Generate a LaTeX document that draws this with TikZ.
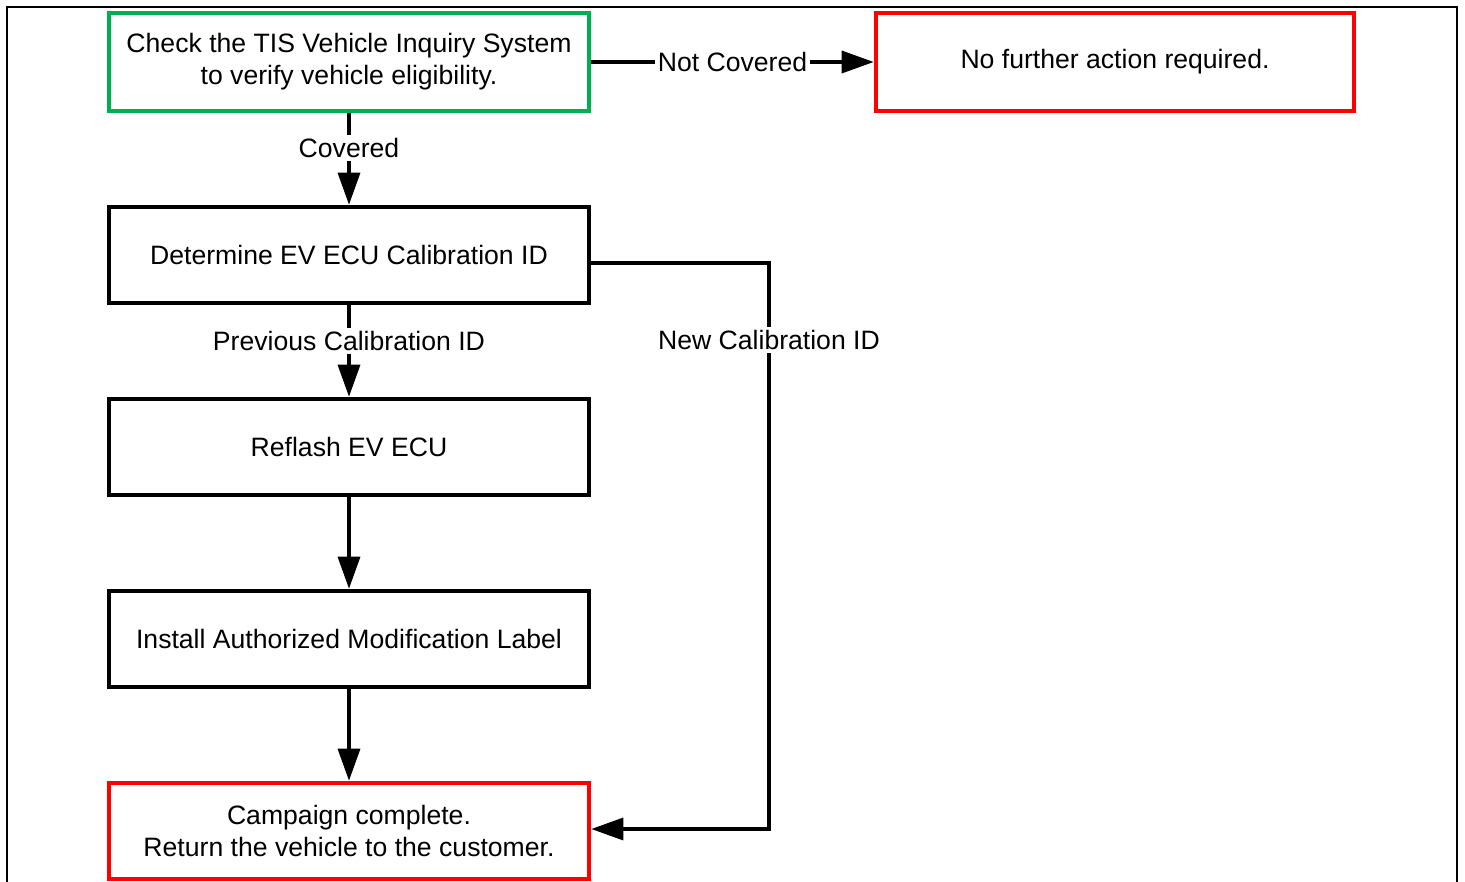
\documentclass[tikz,border=0pt]{standalone}
\usepackage{fontspec}
\setmainfont{Liberation Sans}
\usetikzlibrary{arrows.meta}
\definecolor{boxgreen}{RGB}{0,176,80}
\definecolor{boxred}{RGB}{255,0,0}
\begin{document}
\begin{tikzpicture}[x=0.5pt,y=-0.5pt,
  font=\fontsize{13.3}{16}\selectfont,
  stepbox/.style={draw=black, line width=2.3pt, minimum width=240pt, minimum height=48pt, align=center, inner sep=2pt},
  greenbox/.style={stepbox, draw=boxgreen, minimum height=49pt},
  redbox/.style={stepbox, draw=boxred},
  conn/.style={line width=1.7pt, -{Triangle[length=16pt,width=11pt]}},
  lbl/.style={fill=white, inner sep=1.5pt}]
\useasboundingbox (0,0) rectangle (1465,882);
\draw[line width=1.1pt] (7,882) -- (7,7) -- (1457,7) -- (1457,882);

\node[greenbox] (check) at (349,62) {Check the TIS Vehicle Inquiry System\\to verify vehicle eligibility.};
\node[redbox, minimum width=239pt, minimum height=49pt] (nofurther) at (1115,62) {No further action required.};
\node[stepbox] (det) at (349,255) {Determine EV ECU Calibration ID};
\node[stepbox] (reflash) at (349,447) {Reflash EV ECU};
\node[stepbox] (install) at (349,639) {Install Authorized Modification Label};
\node[redbox] (done) at (349,831) {Campaign complete.\\Return the vehicle to the customer.};

\coordinate (c1) at (769,263);
\coordinate (c2) at (769,829);

\draw[conn] (check.east) -- node[lbl] {Not Covered} (nofurther.west);
\draw[conn] (check.south) -- node[lbl, pos=0.38] {Covered} (det.north);
\draw[conn] (det.south) -- node[lbl, pos=0.39] {Previous Calibration ID} (reflash.north);
\draw[conn] (reflash.south) -- (install.north);
\draw[conn] (install.south) -- (done.north);
\draw[conn] ([yshift=-4pt]det.east) -- (c1) -- node[lbl, pos=0.136] {New Calibration ID} (c2) -- ([yshift=1pt]done.east);
\end{tikzpicture}
\end{document}
